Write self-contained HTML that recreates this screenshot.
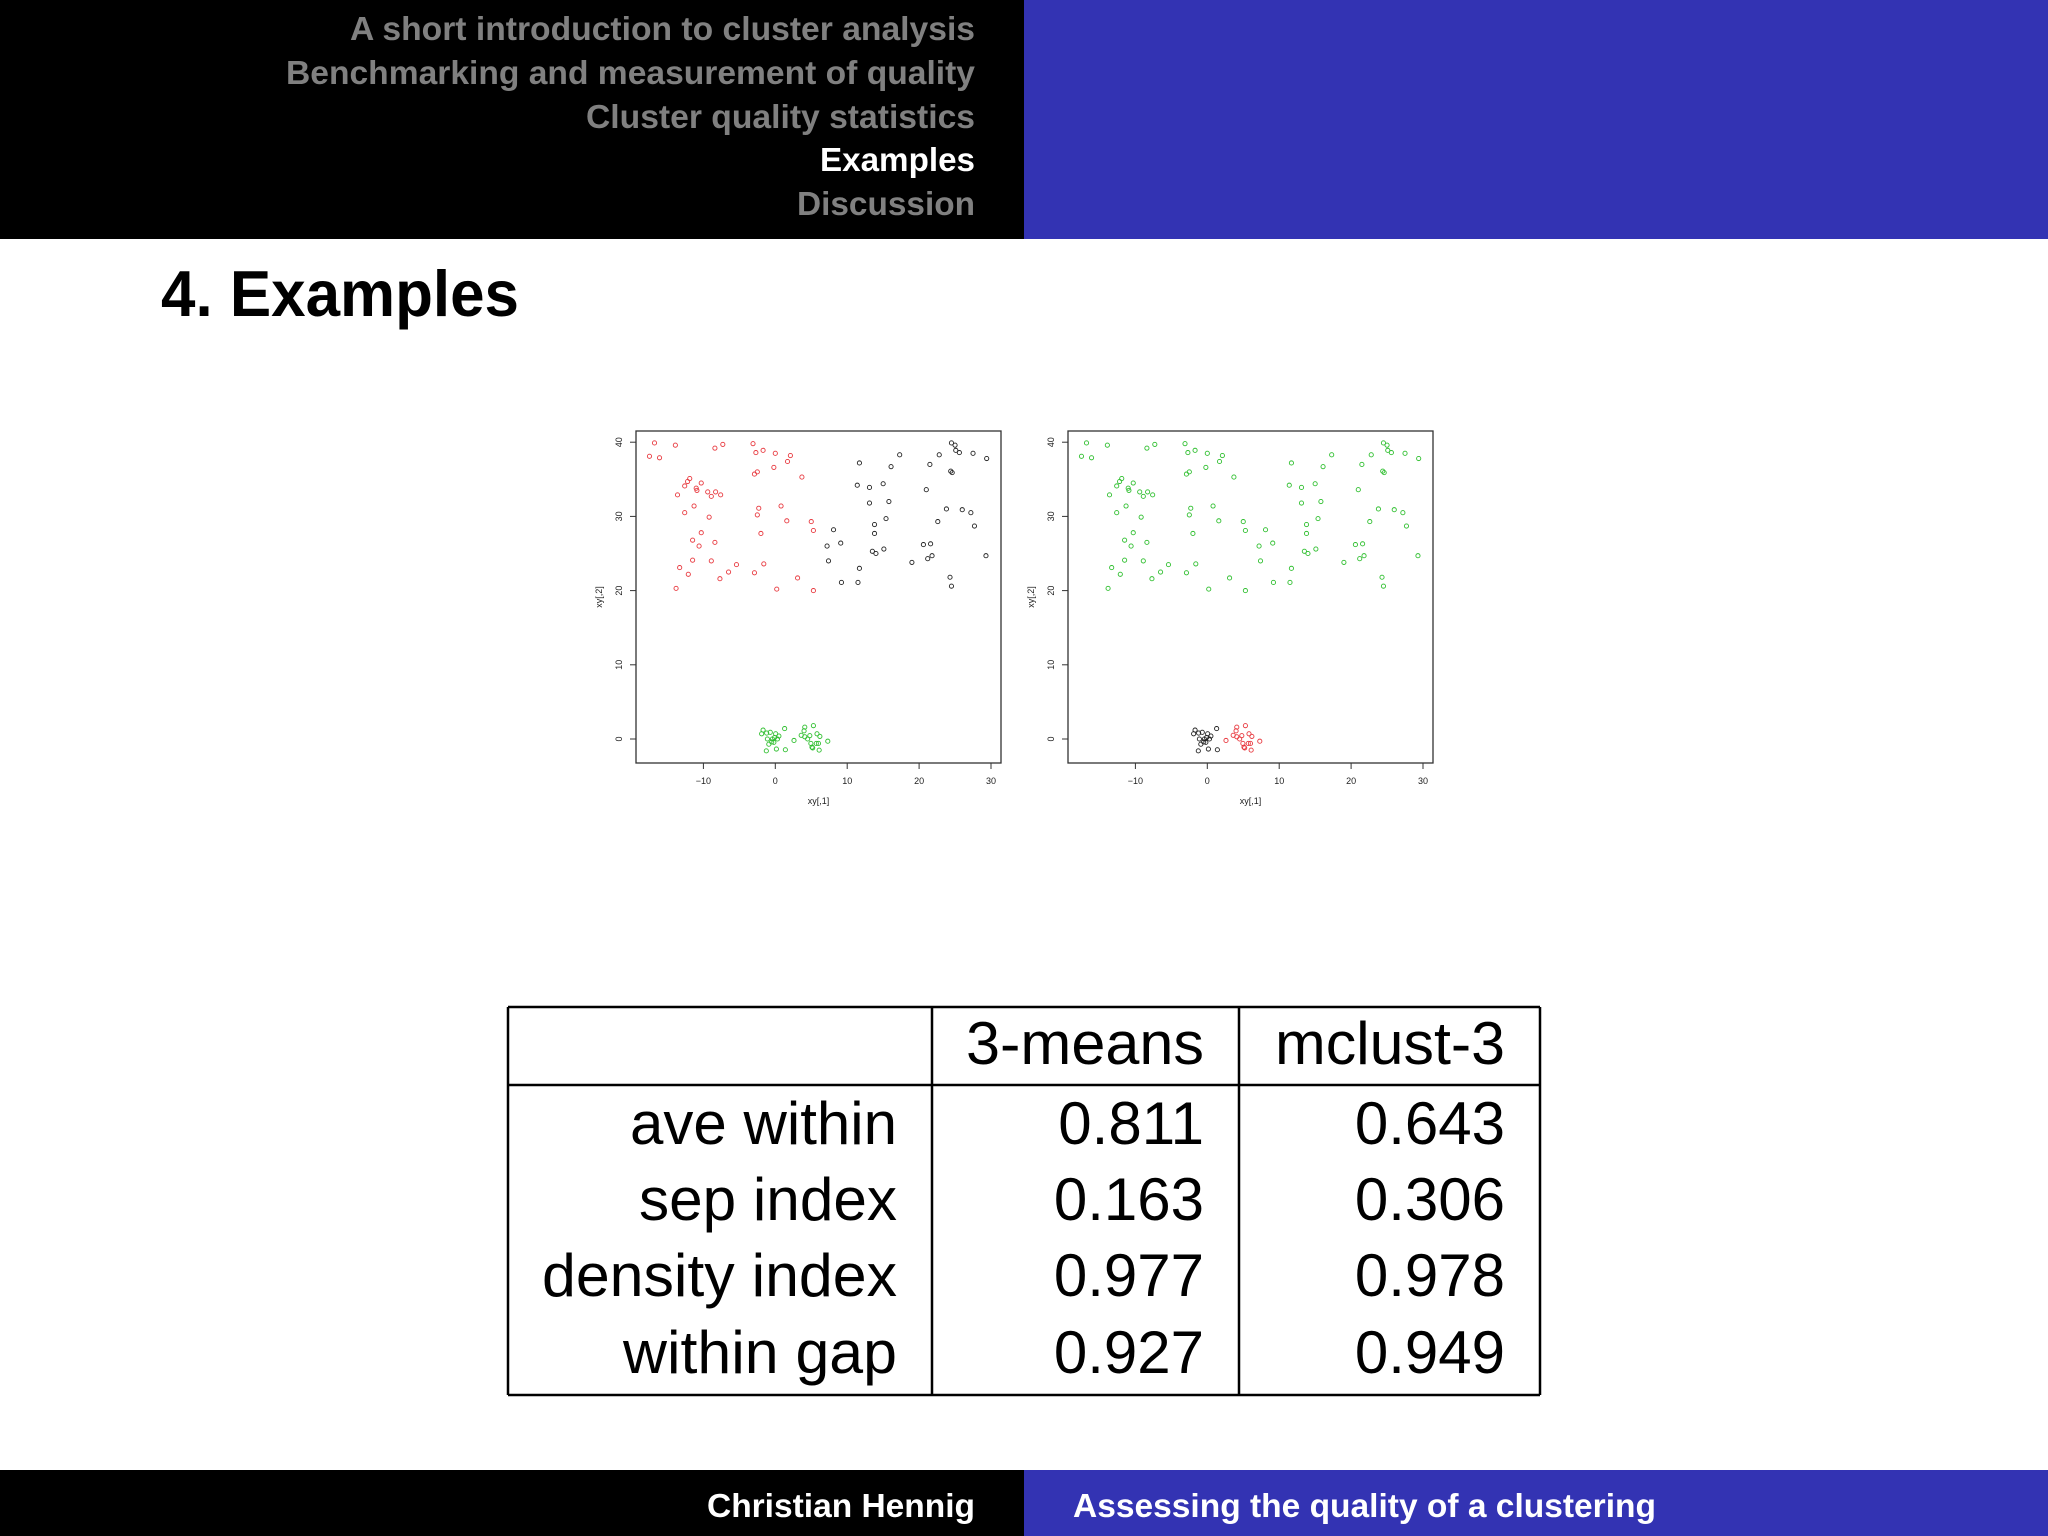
<!DOCTYPE html>
<html><head><meta charset="utf-8"><style>
html,body{margin:0;padding:0;background:#fff;}
svg{display:block;font-family:"Liberation Sans",sans-serif;}
</style></head><body>
<svg id="page" width="2048" height="1536" viewBox="0 0 2048 1536" xmlns="http://www.w3.org/2000/svg">
<rect x="0" y="0" width="1024" height="239" fill="#000"/>
<rect x="1024" y="0" width="1024" height="239" fill="#3333b3"/>
<g font-weight="bold" font-size="33" text-anchor="end">
<text x="975" y="40" fill="#808080" textLength="625" lengthAdjust="spacingAndGlyphs">A short introduction to cluster analysis</text>
<text x="975" y="84" fill="#808080" textLength="689" lengthAdjust="spacingAndGlyphs">Benchmarking and measurement of quality</text>
<text x="975" y="128" fill="#808080" textLength="389" lengthAdjust="spacingAndGlyphs">Cluster quality statistics</text>
<text x="975" y="171" fill="#ffffff" textLength="155" lengthAdjust="spacingAndGlyphs">Examples</text>
<text x="975" y="215" fill="#808080" textLength="178" lengthAdjust="spacingAndGlyphs">Discussion</text>
</g>
<text x="161" y="316" font-size="65" font-weight="bold" fill="#000" textLength="358" lengthAdjust="spacingAndGlyphs">4. Examples</text>

<g id="plots"></g>

<g stroke="#000" stroke-width="2.5" fill="none">
<line x1="508" y1="1007" x2="1540" y2="1007"/>
<line x1="508" y1="1085" x2="1540" y2="1085"/>
<line x1="508" y1="1395" x2="1540" y2="1395"/>
<line x1="508" y1="1007" x2="508" y2="1395"/>
<line x1="932" y1="1007" x2="932" y2="1395"/>
<line x1="1239" y1="1007" x2="1239" y2="1395"/>
<line x1="1540" y1="1007" x2="1540" y2="1395"/>
</g>
<g font-size="60" text-anchor="end" fill="#000">
<text x="1204" y="1064" textLength="238" lengthAdjust="spacingAndGlyphs">3-means</text>
<text x="1505" y="1064" textLength="230" lengthAdjust="spacingAndGlyphs">mclust-3</text>
<text x="897" y="1144" textLength="267" lengthAdjust="spacingAndGlyphs">ave within</text>
<text x="897" y="1220" textLength="258" lengthAdjust="spacingAndGlyphs">sep index</text>
<text x="897" y="1296" textLength="355" lengthAdjust="spacingAndGlyphs">density index</text>
<text x="897" y="1373" textLength="274" lengthAdjust="spacingAndGlyphs">within gap</text>
<text x="1204" y="1144">0.811</text>
<text x="1505" y="1144">0.643</text>
<text x="1204" y="1220">0.163</text>
<text x="1505" y="1220">0.306</text>
<text x="1204" y="1296">0.977</text>
<text x="1505" y="1296">0.978</text>
<text x="1204" y="1373">0.927</text>
<text x="1505" y="1373">0.949</text>
</g>

<rect x="0" y="1470" width="1024" height="66" fill="#000"/>
<rect x="1024" y="1470" width="1024" height="66" fill="#3333b3"/>
<text x="975" y="1517" font-size="33" font-weight="bold" fill="#fff" text-anchor="end" textLength="268" lengthAdjust="spacingAndGlyphs">Christian Hennig</text>
<text x="1073" y="1517" font-size="33" font-weight="bold" fill="#fff" textLength="583" lengthAdjust="spacingAndGlyphs">Assessing the quality of a clustering</text>
</svg>
<script>
// data: x, y and group (0 = upper-left, 1 = upper-right, 2 = small-left, 3 = small-right)
const xs = [-17.5,-16.8,-16.1,-13.9,-8.4,-7.3,-3.1,-2.7,-1.7,0,2.1,1.7,-0.2,-2.5,-2.9,3.7,-11.9,-12.2,-12.6,-10.3,-11.0,-10.9,-9.4,-8.3,-8.9,-7.6,-13.6,-12.6,-11.3,-9.2,-2.3,-2.5,0.8,1.6,5.0,5.3,-2.0,-10.3,-11.5,-10.6,-8.4,-11.5,-8.9,-13.3,-12.1,-6.5,-5.4,-7.7,-2.9,-1.6,3.1,0.2,5.3,-13.8,
11.7,11.4,13.1,13.1,15.0,16.1,17.3,15.8,15.4,13.8,13.8,8.1,7.2,9.1,7.4,13.5,14.0,15.1,11.7,9.2,11.5,24.5,25.0,25.1,25.6,22.8,21.5,27.5,29.4,24.4,24.6,21.0,23.8,26.0,27.2,22.6,27.7,20.6,21.6,21.8,21.2,19.0,29.3,24.3,24.5,
-1.7,-1.9,-1.2,-0.7,0.05,0.5,-0.1,-0.4,-1.1,0.3,-0.5,-0.9,-0.2,1.3,-1.25,0.15,1.4,
4.1,5.3,4.0,3.6,4.1,4.8,5.8,6.2,4.5,4.95,5.7,6.0,5.1,5.2,6.1,7.3,2.6];
const ys = [38.1,39.9,37.9,39.6,39.2,39.7,39.8,38.6,38.9,38.5,38.2,37.4,36.6,36.0,35.7,35.3,35.1,34.7,34.1,34.5,33.8,33.5,33.3,33.3,32.7,32.9,32.9,30.5,31.4,29.9,31.1,30.2,31.4,29.4,29.3,28.1,27.7,27.8,26.8,26.0,26.5,24.1,24.0,23.1,22.2,22.5,23.5,21.6,22.4,23.6,21.7,20.2,20.0,20.3,
37.2,34.2,33.9,31.8,34.4,36.7,38.3,32.0,29.7,28.9,27.7,28.2,26.0,26.4,24.0,25.3,25.0,25.6,23.0,21.1,21.1,39.9,39.6,38.9,38.6,38.3,37.0,38.5,37.8,36.1,35.9,33.6,31.0,30.9,30.5,29.3,28.7,26.2,26.3,24.7,24.3,23.8,24.7,21.8,20.6,
1.2,0.7,0.8,0.9,0.7,0.4,0.2,0,0,0,-0.4,-0.7,-0.45,1.4,-1.6,-1.35,-1.45,
1.6,1.8,1.1,0.5,0.3,0.45,0.7,0.35,0,-0.6,-0.6,-0.6,-1.1,-1.2,-1.5,-0.3,-0.2];
const groups = [].concat(Array(54).fill(0), Array(45).fill(1), Array(17).fill(2), Array(17).fill(3));
const kmeansColors = ['#e8393f','#222222','#2fbf2f','#2fbf2f'];
const mclustColors = ['#2fbf2f','#2fbf2f','#222222','#e8393f'];
const xTicks = [-10,0,10,20,30];
const yTicks = [0,10,20,30,40];

const NS = 'http://www.w3.org/2000/svg';
function mk(tag, attrs, parent){ const e=document.createElementNS(NS,tag); for(const k in attrs) e.setAttribute(k,attrs[k]); parent.appendChild(e); return e; }
const root = document.getElementById('plots');
function drawPlot(offset, colors, name){
  const L=636+offset, R=1001+offset, T=431, B=763;
  const sx = v => 775.3+offset + v*7.19;
  const sy = v => 739 - v*7.42;
  const g = mk('g',{},root);
  
  
  const box = mk('rect',{x:L,y:T,width:R-L,height:B-T,fill:'none',stroke:'#333','stroke-width':1.3},g);
  
  
  mk('line',{x1:sx(xTicks[0]),y1:B,x2:sx(xTicks[xTicks.length-1]),y2:B,stroke:'#333','stroke-width':1},g);
  xTicks.forEach(t=>{
    mk('line',{x1:sx(t),y1:B,x2:sx(t),y2:B+6,stroke:'#333','stroke-width':1},g);
    const tx = mk('text',{x:sx(t),y:B+21,'font-size':9,'text-anchor':'middle',fill:'#222'},g);
    tx.textContent = t<0 ? '\u2212'+(-t) : String(t);
    
    
  });
  mk('line',{x1:L,y1:sy(yTicks[0]),x2:L,y2:sy(yTicks[yTicks.length-1]),stroke:'#333','stroke-width':1},g);
  yTicks.forEach(t=>{
    mk('line',{x1:L,y1:sy(t),x2:L-6,y2:sy(t),stroke:'#333','stroke-width':1},g);
    const tx = mk('text',{x:0,y:0,'font-size':9,'text-anchor':'middle',fill:'#222',transform:`translate(${L-14},${sy(t)}) rotate(-90)`},g);
    tx.textContent = String(t);
    
    
  });
  const xl = mk('text',{x:(L+R)/2,y:804,'font-size':9,'text-anchor':'middle',fill:'#222'},g);
  xl.textContent='xy[,1]';
  
  
  const yl = mk('text',{x:0,y:0,'font-size':9,'text-anchor':'middle',fill:'#222',transform:`translate(${L-34},${(T+B)/2}) rotate(-90)`},g);
  yl.textContent='xy[,2]';
  
  
  xs.forEach((x,i)=>{
    const c = mk('circle',{cx:sx(x),cy:sy(ys[i]),r:2.1,fill:'none',stroke:colors[groups[i]],'stroke-width':0.9},g);
    
    
  });
}
drawPlot(0, kmeansColors, 'kmeans-scatter');
drawPlot(432, mclustColors, 'mclust-scatter');
</script>
</body></html>
